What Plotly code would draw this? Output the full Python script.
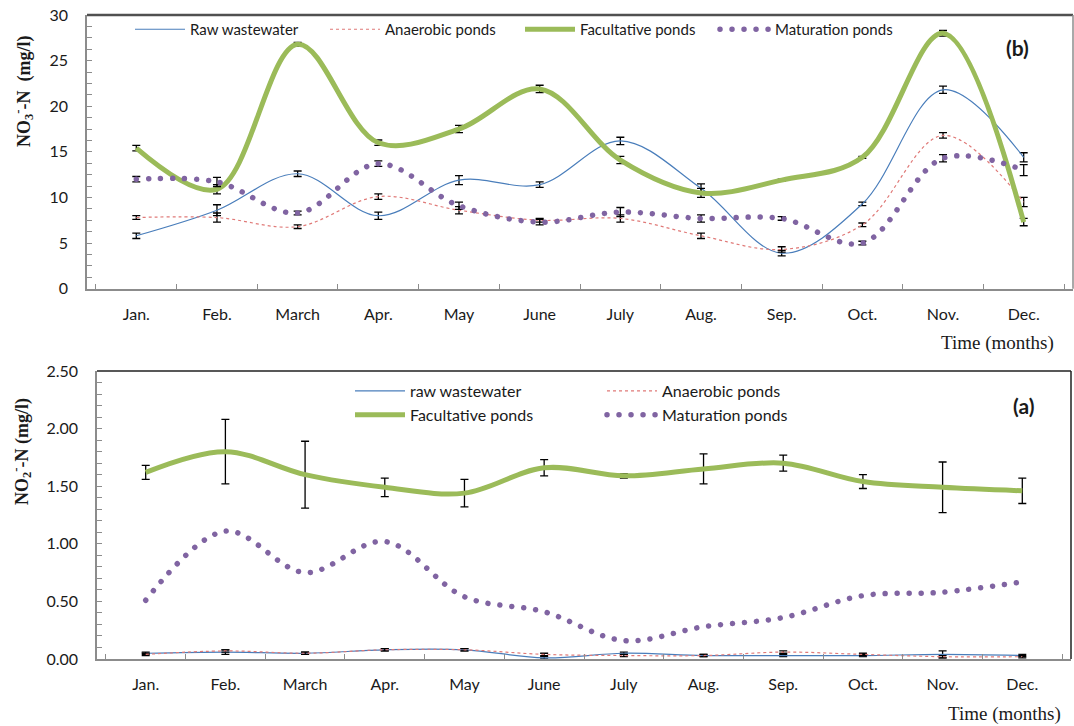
import plotly.graph_objects as go

months = ["Jan.", "Feb.", "March", "Apr.", "May", "June", "July", "Aug.", "Sep.", "Oct.", "Nov.", "Dec."]

# (b) NO3-N (mg/l)
no3_raw = [5.8, 8.6, 12.6, 8.0, 11.9, 11.4, 16.2, 11.0, 3.9, 9.3, 21.8, 14.4]
no3_raw_err = [0.3, 0.6, 0.3, 0.4, 0.5, 0.3, 0.4, 0.5, 0.3, 0.2, 0.4, 0.5]
no3_ana = [7.8, 7.8, 6.8, 10.1, 8.6, 7.5, 7.7, 5.8, 4.3, 7.0, 16.8, 9.5]
no3_ana_err = [0.2, 0.5, 0.2, 0.3, 0.4, 0.2, 0.4, 0.3, 0.3, 0.2, 0.3, 0.5]
no3_fac = [15.4, 10.9, 26.8, 16.0, 17.5, 21.9, 14.1, 10.5, 11.9, 14.4, 28.0, 7.3]
no3_fac_err = [0.3, 0.5, 0.2, 0.3, 0.4, 0.4, 0.4, 0.5, 0.1, 0.1, 0.3, 0.4]
no3_mat = [12.0, 11.7, 8.3, 13.7, 9.1, 7.3, 8.4, 7.7, 7.7, 5.0, 14.3, 13.0]
no3_mat_err = [0.3, 0.5, 0.2, 0.3, 0.4, 0.3, 0.5, 0.4, 0.2, 0.2, 0.4, 0.6]

# (a) NO2-N (mg/l)
no2_raw = [0.05, 0.06, 0.05, 0.08, 0.08, 0.01, 0.05, 0.03, 0.03, 0.03, 0.04, 0.03]
no2_raw_err = [0.01, 0.02, 0.01, 0.01, 0.01, 0.01, 0.01, 0.01, 0.01, 0.01, 0.03, 0.01]
no2_ana = [0.04, 0.07, 0.05, 0.08, 0.08, 0.04, 0.03, 0.03, 0.06, 0.04, 0.02, 0.02]
no2_ana_err = [0.01, 0.01, 0.01, 0.01, 0.01, 0.01, 0.01, 0.01, 0.01, 0.01, 0.01, 0.01]
no2_fac = [1.62, 1.80, 1.60, 1.49, 1.44, 1.66, 1.59, 1.65, 1.70, 1.54, 1.49, 1.46]
no2_fac_err = [0.06, 0.28, 0.29, 0.08, 0.12, 0.07, 0.02, 0.13, 0.07, 0.06, 0.22, 0.11]
no2_mat = [0.51, 1.11, 0.75, 1.02, 0.54, 0.41, 0.16, 0.28, 0.36, 0.55, 0.58, 0.67]

# body margin is removed in the page (see post_script), so paper == page pixels
OFF = 0
W, H = 1074, 726
def PX(x):
    return (x - OFF) / W
def PY(y):
    return 1 - (y - OFF) / H

BLUE = "#4A7EBB"
RED = "#E07A78"
GREEN = "#9BBB59"
PURPLE = "#8064A2"
AX = "#8C8C8C"
TICKFONT = dict(family="Lato, Carlito, sans-serif", size=16, color="#1a1a1a")
DOTS = "0.01px,12px"   # drawn with round caps -> round dots

def err(arr):
    return dict(type="data", array=arr, color="black", thickness=1.3, width=4, visible=True)

fig = go.Figure()

# ---- top (b)
fig.add_trace(go.Scatter(x=months, y=no3_raw, error_y=err(no3_raw_err), mode="lines",
                         line=dict(color=BLUE, width=1.2, shape="spline"), name="Raw wastewater",
                         xaxis="x", yaxis="y", legend="legend"))
fig.add_trace(go.Scatter(x=months, y=no3_ana, error_y=err(no3_ana_err), mode="lines",
                         line=dict(color=RED, width=1.2, shape="spline", dash="3px,3px"), name="Anaerobic ponds",
                         xaxis="x", yaxis="y", legend="legend"))
fig.add_trace(go.Scatter(x=months, y=no3_fac, error_y=err(no3_fac_err), mode="lines",
                         line=dict(color=GREEN, width=5, shape="spline"), name="Facultative ponds",
                         xaxis="x", yaxis="y", legend="legend"))
fig.add_trace(go.Scatter(x=months, y=no3_mat, error_y=err(no3_mat_err), mode="lines",
                         line=dict(color=PURPLE, width=5.5, shape="spline", dash=DOTS), name="Maturation ponds",
                         xaxis="x", yaxis="y", legend="legend"))

# ---- bottom (a)
fig.add_trace(go.Scatter(x=months, y=no2_raw, error_y=err(no2_raw_err), mode="lines",
                         line=dict(color=BLUE, width=1.2, shape="spline"), name="raw wastewater",
                         xaxis="x2", yaxis="y2", legend="legend2"))
fig.add_trace(go.Scatter(x=months, y=no2_ana, error_y=err(no2_ana_err), mode="lines",
                         line=dict(color=RED, width=1.2, shape="spline", dash="3px,3px"), name="Anaerobic ponds",
                         xaxis="x2", yaxis="y2", legend="legend3"))
fig.add_trace(go.Scatter(x=months, y=no2_fac, error_y=err(no2_fac_err), mode="lines",
                         line=dict(color=GREEN, width=5, shape="spline"), name="Facultative ponds",
                         xaxis="x2", yaxis="y2", legend="legend2"))
fig.add_trace(go.Scatter(x=months, y=no2_mat, mode="lines",
                         line=dict(color=PURPLE, width=5.5, shape="spline", dash=DOTS), name="Maturation ponds",
                         xaxis="x2", yaxis="y2", legend="legend3"))

xcommon = dict(type="category", tickson="boundaries", ticks="inside", ticklen=5, tickcolor=AX,
               showline=True, linecolor=AX, linewidth=1.5, showgrid=False, zeroline=False,
               tickfont=TICKFONT, ticklabelstandoff=10, fixedrange=True)

fig.update_layout(
    width=W, height=H,
    margin=dict(l=0, r=0, t=0, b=0, autoexpand=False),
    paper_bgcolor="white", plot_bgcolor="white",
    xaxis=dict(domain=[PX(87), PX(1073)], anchor="y", **xcommon),
    yaxis=dict(domain=[PY(288.7), PY(15)], anchor="x", range=[0, 30], dtick=5,
               ticks="inside", ticklen=5, tickcolor=AX, showline=True, linecolor=AX, linewidth=1.5,
               showgrid=False, zeroline=False, tickfont=TICKFONT, ticklabelstandoff=14,
               ticklabeloverflow="allow",
               minor=dict(dtick=1.25, ticks="inside", ticklen=5, tickcolor=AX)),
    xaxis2=dict(domain=[PX(97), PX(1071)], anchor="y2", **xcommon),
    yaxis2=dict(domain=[PY(659), PY(371)], anchor="x2", range=[0, 2.5], dtick=0.5, tickformat=".2f",
                ticks="inside", ticklen=5, tickcolor=AX, showline=True, linecolor=AX, linewidth=1.5,
                showgrid=False, zeroline=False, tickfont=TICKFONT, ticklabelstandoff=14,
                ticklabeloverflow="allow",
                minor=dict(dtick=0.1, ticks="inside", ticklen=5, tickcolor=AX)),
    legend=dict(orientation="h", x=PX(130), y=PY(13), xanchor="left", yanchor="top",
                bgcolor="rgba(0,0,0,0)", font=dict(family="Lato, sans-serif", size=15, color="#1a1a1a"),
                entrywidth=130, itemwidth=50),
    legend2=dict(orientation="v", x=PX(350), y=PY(374), xanchor="left", yanchor="top",
                 bgcolor="rgba(0,0,0,0)", font=dict(family="Lato, sans-serif", size=16, color="#1a1a1a"),
                 itemwidth=50, tracegroupgap=0),
    legend3=dict(orientation="v", x=PX(602), y=PY(374), xanchor="left", yanchor="top",
                 bgcolor="rgba(0,0,0,0)", font=dict(family="Lato, sans-serif", size=16, color="#1a1a1a"),
                 itemwidth=50, tracegroupgap=0),
    showlegend=True,
)

# borders
fig.add_shape(type="line", xref="x domain", yref="y domain", x0=0, x1=1, y0=1, y1=1,
              line=dict(color="#505050", width=2.5))
fig.add_shape(type="line", xref="x domain", yref="y domain", x0=1, x1=1, y0=0, y1=1,
              line=dict(color=AX, width=1.5))
fig.add_shape(type="line", xref="x2 domain", yref="y2 domain", x0=0, x1=1, y0=1, y1=1,
              line=dict(color="#202020", width=1.5))
fig.add_shape(type="line", xref="x2 domain", yref="y2 domain", x0=1, x1=1, y0=0, y1=1,
              line=dict(color="#202020", width=1.5))

SERIF = "Liberation Serif, Times New Roman, serif"
def note(text, x, y, font, angle=0):
    fig.add_annotation(text=text, xref="paper", yref="paper", x=PX(x), y=PY(y),
                       xanchor="center", yanchor="middle", textangle=angle,
                       showarrow=False, font=font)

note("<b>NO<sub>3</sub><sup>-</sup>-N  (mg/l)</b>", 24, 92, dict(family=SERIF, size=18, color="#1a1a1a"), -90)
note("<b>NO<sub>2</sub><sup>-</sup>-N (mg/l)</b>", 21, 452, dict(family=SERIF, size=18, color="#1a1a1a"), -90)
note("Time (months)", 997, 343, dict(family=SERIF, size=19, color="#1a1a1a"))
note("Time (months)", 1004, 714, dict(family=SERIF, size=19, color="#1a1a1a"))
note("<b>(b)</b>", 1017, 47, dict(family="Lato, sans-serif", size=21, color="#1a1a1a"))
note("<b>(a)</b>", 1023, 405, dict(family="Lato, sans-serif", size=21, color="#1a1a1a"))

post = ("document.body.style.margin='0';"
        "var s=document.createElement('style');"
        "s.textContent='body{margin:0 !important;} path[style*=\"0.01px\"]{stroke-linecap:round !important;}';"
        "document.head.appendChild(s);")
fig.write_html("out.html", post_script=post, config={"displayModeBar": False})
